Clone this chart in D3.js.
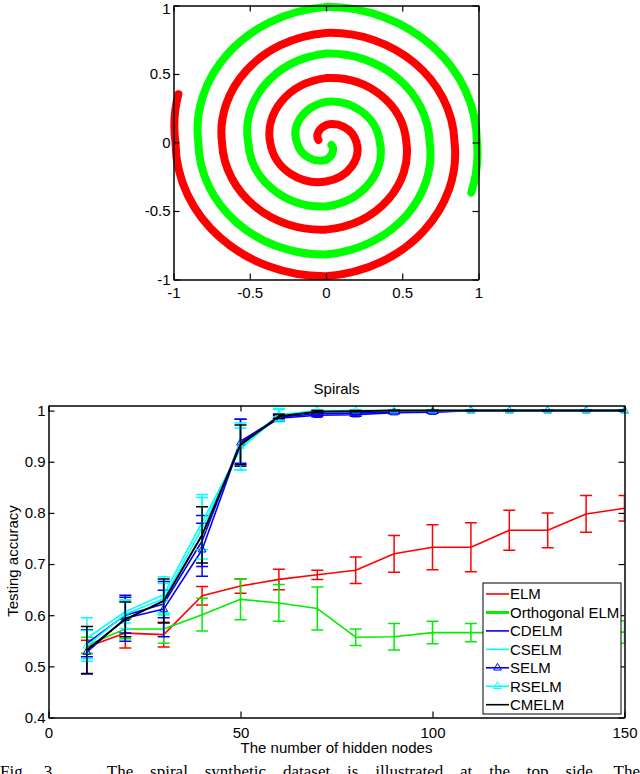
<html>
  <head>
    <title>Spirals</title>
    <style>
      html, body { margin: 0; padding: 0; background: #fff; }
      svg { display: block; }
      text { font-family: "Liberation Sans", Arial, Helvetica, sans-serif; font-size: 15px; fill: #000; }
      .caption { font-family: "Liberation Serif", "Times New Roman", serif; font-size: 17px; white-space: pre; }
    </style>
  </head>
  <body>
<svg id="viz"></svg>

<script src="https://d3js.org/d3.v7.min.js"></script>
<script>
var width = 640;
var height = 774;

// ---------- top plot: the two spirals ----------
// radius at every quarter turn (angles in degrees, y up).
// first and last entries are the loose ends of each arm
var redAngles = [160, 90, 0, -90, -180, -270, -360, -450, -540, -630, -720, -810, -900, -920];
var redRadii  = [0.053, 0.127, 0.200, 0.285, 0.366, 0.470, 0.527, 0.636, 0.682, 0.800, 0.843, 0.976, 0.987, 1.030];
var greenAngles = [-26, -90, -180, -270, -360, -450, -540, -630, -720, -810, -900, -990, -1080, -1101];
var greenRadii  = [0.040, 0.127, 0.190, 0.297, 0.353, 0.467, 0.510, 0.649, 0.680, 0.818, 0.837, 0.990, 0.990, 1.020];
var spiralTicks = [-1, -0.5, 0, 0.5, 1];

// ---------- bottom plot: testing accuracy vs hidden nodes ----------
var hiddenNodes = [10, 20, 30, 40, 50, 60, 70, 80, 90, 100, 110, 120, 130, 140, 150];
var elmMean   = [0.538, 0.565, 0.562, 0.638, 0.657, 0.670, 0.679, 0.688, 0.720, 0.733, 0.733, 0.766, 0.766, 0.798, 0.809];
var elmErr    = [0.013, 0.029, 0.024, 0.018, 0.014, 0.020, 0.009, 0.026, 0.036, 0.044, 0.048, 0.039, 0.034, 0.036, 0.025];
var orthMean  = [0.541, 0.573, 0.573, 0.601, 0.631, 0.624, 0.613, 0.557, 0.558, 0.566, 0.566, 0.566, 0.566, 0.567, 0.567];
var orthErr   = [0.016, 0.019, 0.028, 0.032, 0.040, 0.036, 0.042, 0.016, 0.026, 0.022, 0.018, 0.020, 0.020, 0.020, 0.022];
var cdelmMean = [0.545, 0.600, 0.622, 0.745, 0.940, 0.987, 0.994, 0.995, 0.997, 0.998, 1, 1, 1, 1, 1];
var cdelmErr  = [0.026, 0.035, 0.027, 0.050, 0.043, 0.006, 0.003, 0.003, 0.002, 0.001, 0, 0, 0, 0, 0];
var cselmMean = [0.555, 0.607, 0.640, 0.782, 0.925, 0.990, 0.999, 1, 1, 1, 1, 1, 1, 1, 1];
var cselmErr  = [0.040, 0.022, 0.035, 0.054, 0.041, 0.012, 0.002, 0, 0, 0, 0, 0, 0, 0, 0];
var selmMean  = [0.528, 0.594, 0.612, 0.728, 0.937, 0.985, 0.991, 0.992, 0.996, 0.997, 1, 1, 1, 1, 1];
var selmErr   = [0.043, 0.045, 0.054, 0.052, 0.046, 0.005, 0.003, 0.003, 0.002, 0.002, 0, 0, 0, 0, 0];
var rselmMean = [0.540, 0.602, 0.632, 0.770, 0.930, 0.992, 1, 1, 1, 1, 1, 1, 1, 1, 1];
var rselmErr  = [0.030, 0.028, 0.030, 0.060, 0.046, 0.012, 0, 0, 0, 0, 0, 0, 0, 0, 0];
var cmelmMean = [0.532, 0.592, 0.628, 0.757, 0.933, 0.989, 0.998, 0.999, 1, 1, 1, 1, 1, 1, 1];
var cmelmErr  = [0.046, 0.034, 0.043, 0.055, 0.039, 0.004, 0.002, 0.001, 0, 0, 0, 0, 0, 0, 0];
var accTicks = [0.4, 0.5, 0.6, 0.7, 0.8, 0.9, 1];
var nodeTicks = [0, 50, 100, 150];

var series = [
  {name: "ELM",            mean: elmMean,   err: elmErr,   color: "#ff0000", tri: false, w: 1.6, lw: 1.6},
  {name: "Orthogonal ELM", mean: orthMean,  err: orthErr,  color: "#00ee00", tri: false, w: 1.6, lw: 3},
  {name: "CDELM",          mean: cdelmMean, err: cdelmErr, color: "#0000ff", tri: false, w: 1.6, lw: 1.6},
  {name: "CSELM",          mean: cselmMean, err: cselmErr, color: "#00ffff", tri: false, w: 1.6, lw: 1.6},
  {name: "SELM",           mean: selmMean,  err: selmErr,  color: "#0000ff", tri: true,  w: 1.6, lw: 1.6},
  {name: "RSELM",          mean: rselmMean, err: rselmErr, color: "#00ffff", tri: true,  w: 1.6, lw: 1.6},
  {name: "CMELM",          mean: cmelmMean, err: cmelmErr, color: "#000000", tri: false, w: 2,   lw: 1.6}
];

var svg = d3.select("#viz").attr("width", width).attr("height", height);

function numLabel(d) { return String(d); }

// matlab style box: ticks pointing inwards on all four sides
function boxAxes(g, x, y, xt, yt, xpad, ypad) {
  var x0 = x.range()[0], x1 = x.range()[1], y0 = y.range()[0], y1 = y.range()[1];
  g.append("g").attr("transform", "translate(0," + y0 + ")")
    .call(d3.axisBottom(x).tickValues(xt).tickFormat(numLabel).tickSize(-6).tickSizeOuter(0).tickPadding(xpad));
  g.append("g").attr("transform", "translate(0," + y1 + ")")
    .call(d3.axisTop(x).tickValues(xt).tickFormat("").tickSize(-6).tickSizeOuter(0));
  g.append("g").attr("class", "yleft").attr("transform", "translate(" + x0 + ",0)")
    .call(d3.axisLeft(y).tickValues(yt).tickFormat(numLabel).tickSize(-6).tickSizeOuter(0).tickPadding(ypad));
  g.append("g").attr("transform", "translate(" + x1 + ",0)")
    .call(d3.axisRight(y).tickValues(yt).tickFormat("").tickSize(-6).tickSizeOuter(0));
  g.selectAll(".domain").attr("stroke", "#000").attr("stroke-width", 1.5);
  g.selectAll(".tick line").attr("stroke", "#000").attr("stroke-width", 1.2);
  g.selectAll(".tick text").attr("font-size", 15).attr("font-family", null);
  return g;
}

// ---------- spirals ----------
var sx = d3.scaleLinear().domain([-1, 1]).range([173.5, 478.5]);
var sy = d3.scaleLinear().domain([-1, 1]).range([279.5, 5.5]);

var topPlot = svg.append("g");

// one bezier per reading interval, following the arc between the two
// read points (radius changes evenly along the interval)
function spiralPath(angles, radii) {
  var p = d3.path();
  var t = angles.map(function(a) { return a * Math.PI / 180; });
  p.moveTo(sx(radii[0] * Math.cos(t[0])), sy(radii[0] * Math.sin(t[0])));
  for (var i = 0; i < t.length - 1; i++) {
    var t0 = t[i], t1 = t[i + 1], r0 = radii[i], r1 = radii[i + 1];
    var dt = t1 - t0;
    var rp = (r1 - r0) / dt;
    var s = 4 / 3 * Math.tan(dt / 4);
    var x0 = r0 * Math.cos(t0), y0 = r0 * Math.sin(t0);
    var x1 = r1 * Math.cos(t1), y1 = r1 * Math.sin(t1);
    var c0x = x0 + s * (rp * Math.cos(t0) - r0 * Math.sin(t0));
    var c0y = y0 + s * (rp * Math.sin(t0) + r0 * Math.cos(t0));
    var c1x = x1 - s * (rp * Math.cos(t1) - r1 * Math.sin(t1));
    var c1y = y1 - s * (rp * Math.sin(t1) + r1 * Math.cos(t1));
    p.bezierCurveTo(sx(c0x), sy(c0y), sx(c1x), sy(c1y), sx(x1), sy(y1));
  }
  return p.toString();
}

function drawSpiral(angles, radii, color) {
  topPlot.append("path")
    .attr("d", spiralPath(angles, radii))
    .attr("fill", "none")
    .attr("stroke", color)
    .attr("stroke-width", 8)
    .attr("stroke-linecap", "round")
    .attr("stroke-linejoin", "round");
}

drawSpiral(redAngles, redRadii, "#ff0000");
drawSpiral(greenAngles, greenRadii, "#00ff00");

var topAxes = boxAxes(topPlot.append("g"), sx, sy, spiralTicks, spiralTicks, 8, 3);
// the "1" at the top corner sits a little lower so it is not cut by the page edge
topAxes.select(".yleft").selectAll(".tick text")
  .filter(function(d) { return d === 1; })
  .attr("dy", "0.55em");

// ---------- accuracy plot ----------
var bx = d3.scaleLinear().domain([0, 150]).range([48.5, 624.5]);
var by = d3.scaleLinear().domain([0.4, 1.01]).range([717.5, 405.5]);

var bottomPlot = svg.append("g");

svg.append("defs").append("clipPath").attr("id", "plotclip")
  .append("rect")
  .attr("x", bx.range()[0]).attr("y", by.range()[1])
  .attr("width", bx.range()[1] - bx.range()[0])
  .attr("height", by.range()[0] - by.range()[1]);

var lineGen = d3.line()
  .x(function(d) { return bx(d.x); })
  .y(function(d) { return by(d.y); });

var triangle = d3.symbol().type(d3.symbolTriangle).size(26);
var cap = 6;

series.forEach(function(s) {
  var pts = hiddenNodes.map(function(x, i) { return {x: x, y: s.mean[i], e: s.err[i]}; });
  var g = bottomPlot.append("g").attr("class", "series");
  var clipped = g.append("g").attr("clip-path", "url(#plotclip)")
    .attr("stroke", s.color).attr("fill", "none");

  var bars = clipped.selectAll("g.bar").data(pts).enter().append("g").attr("class", "bar")
    .attr("stroke-width", 1.5);
  bars.append("line")
    .attr("x1", function(d) { return bx(d.x); })
    .attr("x2", function(d) { return bx(d.x); })
    .attr("y1", function(d) { return by(d.y - d.e); })
    .attr("y2", function(d) { return by(d.y + d.e); });
  bars.append("line")
    .attr("x1", function(d) { return bx(d.x) - cap; })
    .attr("x2", function(d) { return bx(d.x) + cap; })
    .attr("y1", function(d) { return by(d.y + d.e); })
    .attr("y2", function(d) { return by(d.y + d.e); });
  bars.append("line")
    .attr("x1", function(d) { return bx(d.x) - cap; })
    .attr("x2", function(d) { return bx(d.x) + cap; })
    .attr("y1", function(d) { return by(d.y - d.e); })
    .attr("y2", function(d) { return by(d.y - d.e); });

  clipped.append("path")
    .attr("d", lineGen(pts))
    .attr("stroke-width", s.w)
    .attr("stroke-linejoin", "round");

  if (s.tri) {
    g.selectAll("path.mk").data(pts).enter().append("path").attr("class", "mk")
      .attr("d", triangle)
      .attr("transform", function(d) { return "translate(" + bx(d.x) + "," + by(d.y) + ")"; })
      .attr("fill", "none")
      .attr("stroke", s.color)
      .attr("stroke-width", 1);
  }
});

boxAxes(bottomPlot.append("g"), bx, by, nodeTicks, accTicks, 10, 3);

// title and axis labels
svg.append("text").attr("x", 336.5).attr("y", 394).attr("text-anchor", "middle").text("Spirals");
svg.append("text").attr("x", 336.5).attr("y", 753).attr("text-anchor", "middle").text("The number of hidden nodes");
svg.append("text").attr("transform", "translate(18,561) rotate(-90)").attr("text-anchor", "middle").text("Testing accuracy");

// legend
var legend = svg.append("g");
legend.append("rect")
  .attr("x", 483).attr("y", 583).attr("width", 138).attr("height", 131)
  .attr("fill", "#fff").attr("stroke", "#000").attr("stroke-width", 1);

series.forEach(function(s, i) {
  var yy = 594 + i * 18.45;
  legend.append("line")
    .attr("x1", 486).attr("x2", 509).attr("y1", yy).attr("y2", yy)
    .attr("stroke", s.color).attr("stroke-width", s.lw);
  if (s.tri) {
    legend.append("path").attr("d", triangle)
      .attr("transform", "translate(497.5," + yy + ")")
      .attr("fill", "none").attr("stroke", s.color).attr("stroke-width", 1);
  }
  legend.append("text").attr("x", 510).attr("y", yy + 5.3).text(s.name);
});

// caption line (cut off by the bottom of the picture), justified to full width
var caption = svg.append("text").attr("class", "caption")
  .attr("x", 0).attr("y", 777)
  .text("Fig. 3.   The spiral synthetic dataset is illustrated at the top side. The");
var natural = caption.node().getComputedTextLength();
var gaps = caption.text().split(" ").length - 1;
caption.style("word-spacing", ((640 - natural) / gaps) + "px");
</script>
  </body>
</html>
